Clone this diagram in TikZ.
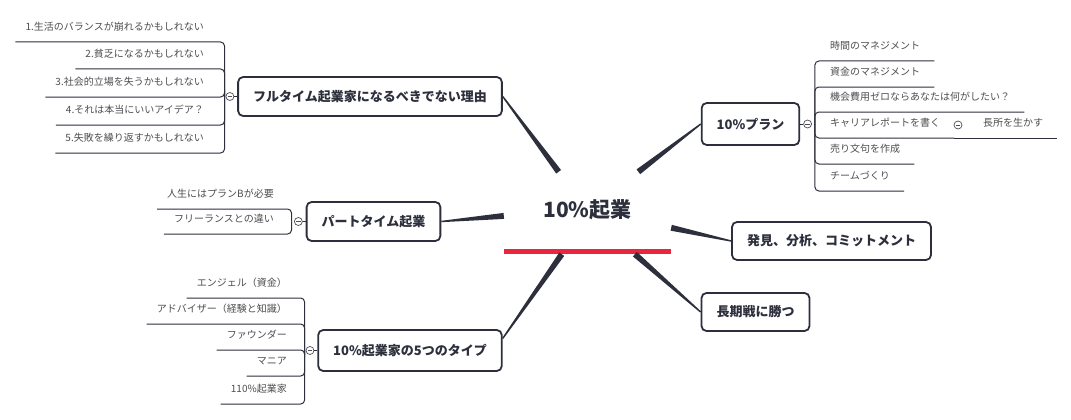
\documentclass[tikz,border=0pt]{standalone}
\usepackage{fontspec}
\setmainfont{Noto Sans CJK JP}
\usetikzlibrary{calc,positioning}
\definecolor{ink}{RGB}{45,48,60}
\definecolor{leafink}{RGB}{78,78,82}
\definecolor{accent}{RGB}{232,38,64}
\tikzset{
  topic/.style={draw=ink, line width=1.8pt, rounded corners=5pt, fill=white, text=ink,
    font=\bfseries\fontsize{13}{15}\selectfont, inner xsep=15pt, minimum height=39pt},
  leaf/.style={text=leafink, font=\fontsize{10}{12}\selectfont, inner ysep=0pt,
    text height=8pt, text depth=11pt},
  leafL/.style={leaf, inner xsep=10pt, anchor=south east},
  leafR/.style={leaf, inner xsep=14pt, anchor=south west},
  fold/.style={circle, draw=leafink, fill=white, line width=0.7pt, minimum size=8pt, inner sep=0pt,
    path picture={\draw[leafink, line width=0.7pt]
      ([xshift=-2.2pt]path picture bounding box.center) -- ([xshift=2.2pt]path picture bounding box.center);}},
  bracket/.style={draw=ink, line width=1pt, rounded corners=4pt},
  stub/.style={fill=ink},
}
% tapered branch: thick at the root, thin at the topic
\newcommand\taper[2]{%
  \fill[stub] ($(#1)!3pt!90:(#2)$) -- ($(#2)!0.7pt!-90:(#1)$)
    -- ($(#2)!0.7pt!90:(#1)$) -- ($(#1)!3pt!-90:(#2)$) -- cycle;}
\begin{document}
\begin{tikzpicture}[x=1pt,y=-1pt]
\useasboundingbox (0,0) rectangle (1071,420);
\fill[white] (0,0) rectangle (1071,420);

% central topic
\node[minimum width=167pt, minimum height=82pt, inner sep=0pt] (root) at (587.5,213) {};
\node[text=ink, font=\bfseries\fontsize{21}{24}\selectfont, inner sep=0pt] (title) at (587.5,209.5) {10\%起業};
\fill[accent] (root.south west) rectangle ([yshift=5pt]root.south east);

% main topics
\node[topic] (F) at (370,96.5) {フルタイム起業家になるべきでない理由};
\node[topic] (P) at (373.5,221.5) {パートタイム起業};
\node[topic, minimum height=41pt] (T) at (410,350.5) {10\%起業家の5つのタイプ};
\node[topic, minimum height=42pt] (R) at (750.5,124) {10\%プラン};
\node[topic, minimum height=38pt] (D) at (831.5,241) {発見、分析、コミットメント};
\node[topic, minimum height=38pt] (L) at (755.5,312) {長期戦に勝つ};

\coordinate (tend) at ([yshift=12pt]T.east);
\taper{root.125.7}{F.east}
\taper{root.39.1}{R.west}
\taper{root.182.7}{P.east}
\taper{root.-10.2}{D.west}
\taper{root.319.2}{L.west}
\taper{root.238.1}{tend}

% fold markers
\node[fold, left=3pt of F] (fc) {};
\node[fold, left=3pt of P] (pc) {};
\node[fold, left=3pt of T] (tc) {};
\node[fold, right=3pt of R] (rc) {};
\draw[bracket] (fc.east) -- (F.west);
\draw[bracket] (pc.east) -- (P.west);
\draw[bracket] (tc.east) -- (T.west);
\draw[bracket] (rc.west) -- (R.east);
\coordinate (fb) at ([xshift=-1pt]fc.west);
\coordinate (pb) at ([xshift=-2.5pt]pc.west);
\coordinate (tb) at ([xshift=-1pt]tc.west);
\coordinate (rb) at ([xshift=3pt]rc.east);

% leaves of the full-time topic
\node[leafL] (f1) at (214,42)  {1.生活のバランスが崩れるかもしれない};
\node[leafL] (f2) at (214,69)  {2.貧乏になるかもしれない};
\node[leafL] (f3) at (214,97)  {3.社会的立場を失うかもしれない};
\node[leafL] (f4) at (214,125) {4.それは本当にいいアイデア？};
\node[leafL] (f5) at (214,153) {5.失敗を繰り返すかもしれない};
\foreach \n in {f1,f2,f3,f4,f5} \draw[bracket] (fb) |- (\n.south west);

% leaves of the part-time topic
\node[leafL] (p1) at (284,209) {人生にはプランBが必要};
\node[leafL] (p2) at (284,234) {フリーランスとの違い};
\foreach \n in {p1,p2} \draw[bracket] (pb) |- (\n.south west);

% leaves of the five types
\node[leafL] (t1) at (297,298) {エンジェル（資金）};
\node[leafL] (t2) at (297,324) {アドバイザー（経験と知識）};
\node[leafL] (t3) at (297,350) {ファウンダー};
\node[leafL] (t4) at (297,376) {マニア};
\node[leafL] (t5) at (297,404) {110\%起業家};
\foreach \n in {t1,t2,t3,t4,t5} \draw[bracket] (tb) |- (\n.south west);

% leaves of the 10% plan
\node[leafR] (r1) at (816,61)  {時間のマネジメント};
\node[leafR] (r2) at (816,87)  {資金のマネジメント};
\node[leafR] (r3) at (816,112) {機会費用ゼロならあなたは何がしたい？};
\node[leafR] (r4) at (816,138) {キャリアレポートを書く};
\node[leafR] (r5) at (816,164) {売り文句を作成};
\node[leafR] (r6) at (816,191) {チームづくり};
\foreach \n in {r1,r2,r3,r4,r5,r6} \draw[bracket] (rb) |- (\n.south east);

\node[leafR] (s1) at (969,138) {長所を生かす};
\node[fold] (sc) at (958,125) {};
\draw[bracket] (r4.south east) -- (s1.south east);
\end{tikzpicture}
\end{document}
